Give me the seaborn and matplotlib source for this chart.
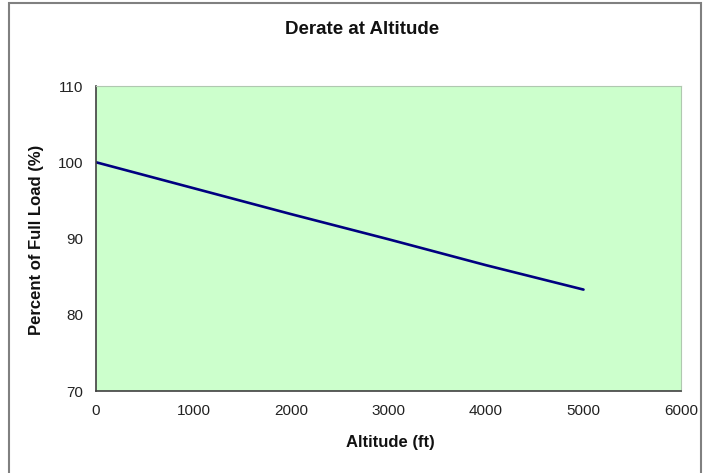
import matplotlib
matplotlib.use("Agg")
import matplotlib.pyplot as plt
import seaborn as sns
import pandas as pd
from matplotlib.patches import Rectangle

# Engine derate with altitude
altitude_ft = [0, 1000, 2000, 3000, 4000, 5000]
percent_full_load = [100.0, 96.6, 93.2, 89.9, 86.5, 83.3]

x_ticks = [0, 1000, 2000, 3000, 4000, 5000, 6000]
y_ticks = [70, 80, 90, 100, 110]

sns.set_theme(style="white")
plt.rcParams["font.family"] = ["Liberation Sans", "DejaVu Sans"]

df = pd.DataFrame({"Altitude (ft)": altitude_ft, "Percent of Full Load (%)": percent_full_load})

W, H = 704, 473
fig = plt.figure(figsize=(W / 100, H / 100), dpi=100)
fig.patch.set_facecolor("white")

# outer chart frame (runs off the bottom edge)
fig.add_artist(Rectangle((9 / W, -10 / H), (701 - 9) / W, (470 + 10) / H,
                         transform=fig.transFigure, fill=False,
                         edgecolor="#808080", linewidth=1.5))

ax = fig.add_axes([96 / W, (H - 391) / H, (681 - 96) / W, (391 - 86) / H])
ax.set_facecolor("#CCFFCC")

sns.lineplot(data=df, x="Altitude (ft)", y="Percent of Full Load (%)", ax=ax,
             color="#000080", linewidth=1.9)

ax.set_xlim(0, 6000)
ax.set_ylim(70, 110)
ax.set_xticks(x_ticks)
ax.set_yticks(y_ticks)
ax.tick_params(axis="both", direction="out", length=5, width=1, color="#404040",
               labelsize=11, labelcolor="#222222")
ax.tick_params(axis="y", pad=4)
ax.tick_params(axis="x", pad=4)

for side in ("left", "bottom"):
    ax.spines[side].set_color("#404040")
    ax.spines[side].set_linewidth(1.2)
for side in ("top", "right"):
    ax.spines[side].set_color("#b0c8b0")
    ax.spines[side].set_linewidth(0.8)

ax.set_xlabel("")
ax.set_ylabel("")
fig.text(390 / W, 1 - 443 / H, "Altitude (ft)", ha="center", va="center",
         fontsize=12, fontweight="bold", color="#111111")
fig.text(37 / W, 1 - 240 / H, "Percent of Full Load (%)", ha="center", va="center",
         rotation=90, fontsize=12, fontweight="bold", color="#111111")
fig.text(362 / W, 1 - 30 / H, "Derate at Altitude", ha="center", va="center",
         fontsize=13.5, fontweight="bold", color="#111111")

fig.savefig("out.png", dpi=100, facecolor="white")
